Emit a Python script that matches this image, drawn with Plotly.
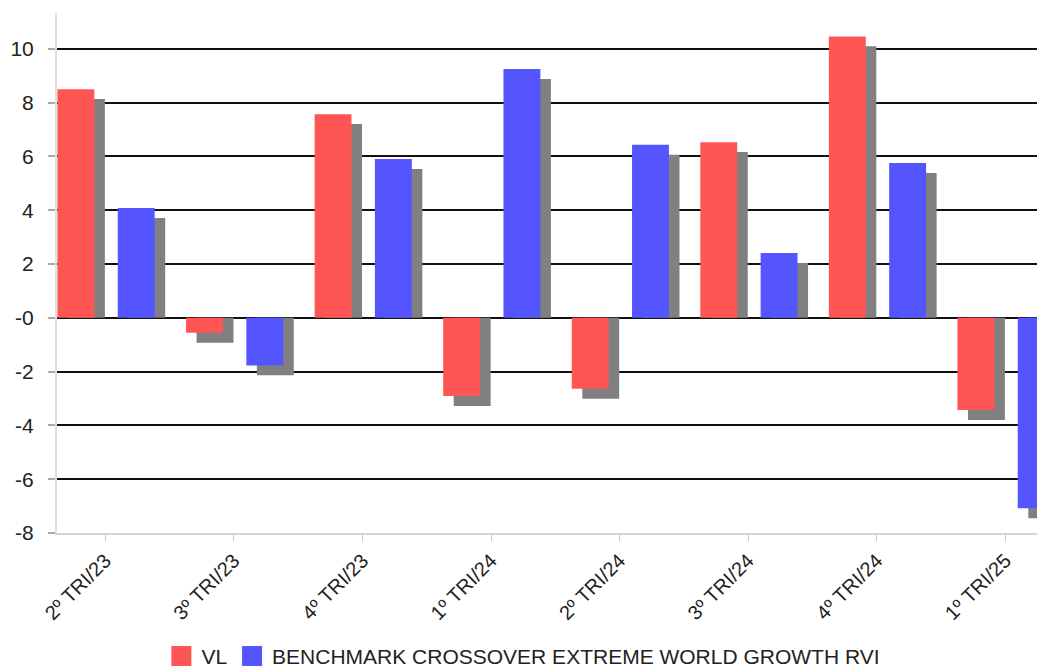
import plotly.graph_objects as go

categories = ["2º TRI/23", "3º TRI/23", "4º TRI/23", "1º TRI/24",
              "2º TRI/24", "3º TRI/24", "4º TRI/24", "1º TRI/25"]
vl_values = [8.50, -0.56, 7.57, -2.91, -2.64, 6.53, 10.46, -3.43]
bench_values = [4.08, -1.77, 5.90, 9.25, 6.43, 2.41, 5.75, -7.08]
series_names = ["VL", "BENCHMARK CROSSOVER EXTREME WORLD GROWTH RVI"]
y_tick_vals = [-8, -6, -4, -2, 0, 2, 4, 6, 8, 10]
y_tick_text = ["-8", "-6", "-4", "-2", "-0", "2", "4", "6", "8", "10"]

RED = "#FF5555"
BLUE = "#5555FF"
SHADOW = "#808080"
SHADOW_DY = 0.37   # shadow drop (y units)
SHADOW_DX = 0.082  # shadow shift (category units)
BAR_W = 0.287
RED_OFF = -0.372
BLUE_OFF = 0.097
FONT = "Liberation Sans, Arial, sans-serif"

fig = go.Figure()

# drop shadows
for vals, off in ((vl_values, RED_OFF), (bench_values, BLUE_OFF)):
    fig.add_trace(go.Bar(
        x=categories, y=[v - SHADOW_DY for v in vals], base=0,
        width=BAR_W, offset=off + SHADOW_DX,
        marker=dict(color=SHADOW, line=dict(width=0)),
        showlegend=False, hoverinfo="skip"))

# main bars
for vals, off, col, name in ((vl_values, RED_OFF, RED, series_names[0]),
                             (bench_values, BLUE_OFF, BLUE, series_names[1])):
    fig.add_trace(go.Bar(
        x=categories, y=vals, width=BAR_W, offset=off, name=name,
        marker=dict(color=col, line=dict(width=0)), showlegend=False))

# legend entries
for col, name in ((RED, series_names[0]), (BLUE, series_names[1])):
    fig.add_trace(go.Scatter(
        x=[None], y=[None], mode="markers", name=name,
        marker=dict(symbol="square", size=16, color=col,
                    line=dict(color=col, width=4))))

fig.update_layout(
    width=1037, height=661,
    barmode="overlay",
    plot_bgcolor="white", paper_bgcolor="white",
    margin=dict(l=49, r=0, t=5, b=136, autoexpand=False),
    font=dict(family=FONT, size=20, color="#222222"),
    showlegend=True,
    legend=dict(orientation="h", xref="container", yref="paper",
                x=0.497, xanchor="center", y=-0.237, yanchor="middle",
                font=dict(size=21, color="#222222"),
                itemclick=False, itemdoubleclick=False,
                tracegroupgap=0),
    xaxis=dict(
        type="category", range=[-0.3756, 7.309], automargin=False,
        showgrid=False, zeroline=False,
        showline=True, linecolor="#d4d4d4", linewidth=2,
        ticks="outside", ticklen=6, tickcolor="#c8c8c8", tickwidth=1,
        tickangle=-45, tickfont=dict(size=20, color="#222222")),
    yaxis=dict(
        range=[-8, 11.33], tickvals=y_tick_vals, ticktext=y_tick_text,
        automargin=False,
        showgrid=True, gridcolor="#111111", gridwidth=2,
        zeroline=False,
        showline=True, linecolor="#dedede", linewidth=2,
        ticks="outside", ticklen=7, tickcolor="#aaaaaa", tickwidth=2,
        ticklabelstandoff=10,
        tickfont=dict(size=21, color="#222222")),
)

fig.write_html("out.html")
